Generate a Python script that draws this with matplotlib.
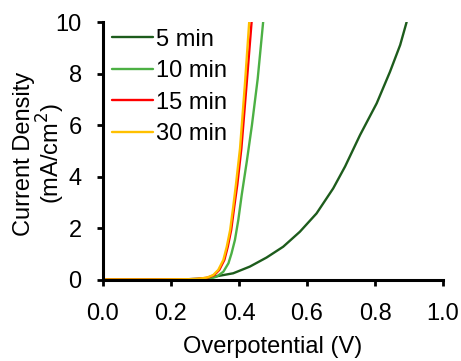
import numpy as np
import matplotlib
matplotlib.use("Agg")
from matplotlib import pyplot as plt

plt.rcParams['font.family'] = ['Liberation Sans', 'DejaVu Sans']

# overpotential (V) and current density (mA/cm2)
v_5 = [0.0, 0.15, 0.25, 0.30, 0.324, 0.383, 0.432, 0.481, 0.530, 0.579, 0.628,
       0.677, 0.712, 0.756, 0.805, 0.844, 0.874, 0.893]
j_5 = [0.02, 0.02, 0.03, 0.06, 0.12, 0.26, 0.52, 0.87, 1.29, 1.87, 2.58,
       3.55, 4.40, 5.62, 6.85, 8.07, 9.11, 10.0]

v_10 = [0.0, 0.15, 0.25, 0.29, 0.315, 0.334, 0.354, 0.369, 0.378, 0.388,
        0.398, 0.408, 0.423, 0.438, 0.455, 0.471]
j_10 = [0.02, 0.02, 0.03, 0.03, 0.05, 0.13, 0.32, 0.65, 1.03, 1.55,
        2.33, 3.30, 4.60, 6.00, 7.80, 10.0]

v_15 = [0.0, 0.15, 0.25, 0.278, 0.308, 0.327, 0.342, 0.357, 0.367, 0.377,
        0.386, 0.395, 0.407, 0.423, 0.437]
j_15 = [0.02, 0.02, 0.03, 0.04, 0.09, 0.19, 0.39, 0.78, 1.29, 1.94,
        2.84, 3.70, 5.10, 7.70, 10.0]

v_30 = [0.0, 0.15, 0.25, 0.275, 0.305, 0.324, 0.339, 0.354, 0.364, 0.374,
        0.383, 0.391, 0.403, 0.418, 0.430]
j_30 = [0.02, 0.02, 0.03, 0.04, 0.09, 0.19, 0.39, 0.78, 1.29, 1.94,
        2.84, 3.70, 5.10, 7.70, 10.0]

labels = ['5 min', '10 min', '15 min', '30 min']
colors = ['#1d5c1c', '#4cb044', '#ff0000', '#ffc000']

fig = plt.figure(figsize=(4.61, 3.61), dpi=100)
ax = fig.add_axes([0.2234, 0.2244, 0.7376, 0.7146])

for v, j, lab, c in zip([v_5, v_10, v_15, v_30], [j_5, j_10, j_15, j_30], labels, colors):
    ax.plot(v, j, color=c, lw=1.7, label=lab, solid_joinstyle='round', solid_capstyle='round')

ax.set_xlim(0, 1.0)
ax.set_ylim(0, 10)
ax.set_xticks(np.arange(0, 1.01, 0.2))
ax.set_xticklabels(['0.0', '0.2', '0.4', '0.6', '0.8', '1.0'])
ax.set_yticks([0, 2, 4, 6, 8, 10])

for s in ['top', 'right']:
    ax.spines[s].set_visible(False)
for s in ['left', 'bottom']:
    ax.spines[s].set_linewidth(2.2)
ax.tick_params(direction='out', length=4.3, width=2.0, labelsize=17)
ax.tick_params(axis='x', pad=12.5)
ax.tick_params(axis='y', pad=11)

ax.set_xlabel('Overpotential (V)', fontsize=17, labelpad=8)
ax.set_ylabel('Current Density\n(mA/cm$^2$)', fontsize=17, linespacing=1.0)
ax.yaxis.set_label_coords(-0.105, 0.49)

ax.legend(loc='upper left', frameon=False, fontsize=17, handlelength=1.7,
          handletextpad=0.13, labelspacing=0.4, borderaxespad=0.0,
          bbox_to_anchor=(0.0, 1.011))

fig.savefig('out.png', dpi=100)
